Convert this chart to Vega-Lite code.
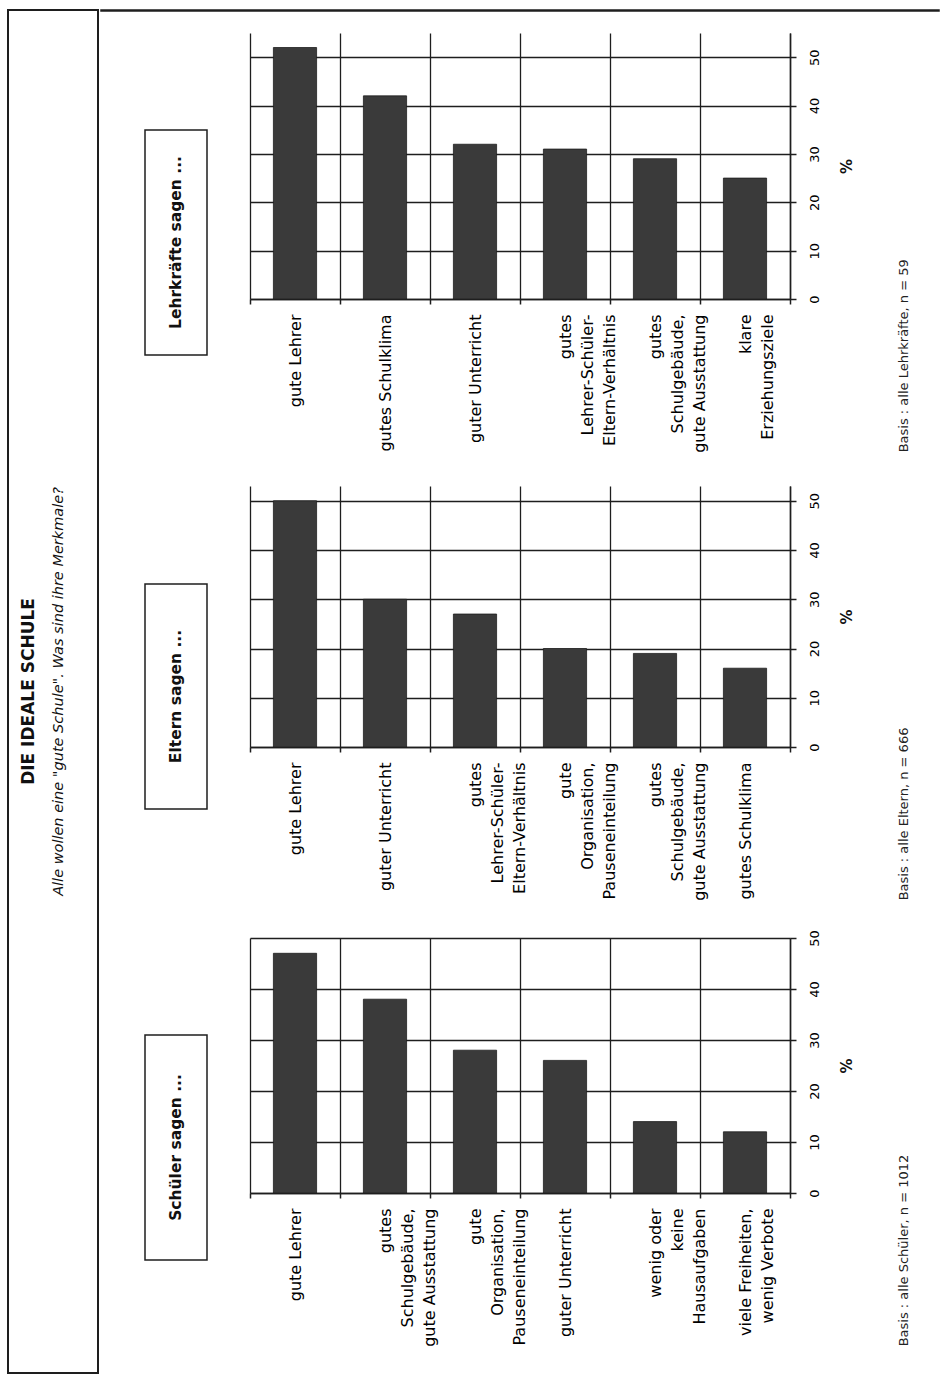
{
  "$schema": "https://vega.github.io/schema/vega-lite/v6.json",
  "background": "white",
  "padding": {"left": 7, "top": 8, "right": 0, "bottom": 0},
  "datasets": {
    "bars": [
      {"group": "L", "label": "gute Lehrer", "value": 52},
      {"group": "L", "label": "gutes Schulklima", "value": 42},
      {"group": "L", "label": "guter Unterricht", "value": 32},
      {"group": "L", "label": "gutes|Lehrer-Schüler-|Eltern-Verhältnis", "value": 31},
      {"group": "L", "label": "gutes|Schulgebäude,|gute Ausstattung", "value": 29},
      {"group": "L", "label": "klare|Erziehungsziele", "value": 25},
      {"group": "E", "label": "gute Lehrer", "value": 50},
      {"group": "E", "label": "guter Unterricht", "value": 30},
      {"group": "E", "label": "gutes|Lehrer-Schüler-|Eltern-Verhältnis", "value": 27},
      {"group": "E", "label": "gute|Organisation,|Pauseneinteilung", "value": 20},
      {"group": "E", "label": "gutes|Schulgebäude,|gute Ausstattung", "value": 19},
      {"group": "E", "label": "gutes Schulklima", "value": 16},
      {"group": "S", "label": "gute Lehrer", "value": 47},
      {"group": "S", "label": "gutes|Schulgebäude,|gute Ausstattung", "value": 38},
      {"group": "S", "label": "gute|Organisation,|Pauseneinteilung", "value": 28},
      {"group": "S", "label": "guter Unterricht", "value": 26},
      {"group": "S", "label": "wenig oder|keine|Hausaufgaben", "value": 14},
      {"group": "S", "label": "viele Freiheiten,|wenig Verbote", "value": 12}
    ],
    "heads": [
      {"group": "L", "text": "Lehrkräfte sagen ..."},
      {"group": "E", "text": "Eltern sagen ..."},
      {"group": "S", "text": "Schüler sagen ..."}
    ]
  },
  "spacing": 0,
  "hconcat": [
    {
      "width": 90,
      "height": 1363,
      "view": {"stroke": "#1e1e1e", "strokeWidth": 2},
      "data": {"values": [
        {"role": "title", "text": "DIE IDEALE SCHULE"},
        {"role": "subtitle", "text": "Alle wollen eine \"gute Schule\". Was sind ihre Merkmale?"}
      ]},
      "encoding": {
        "x": {"field": "role", "type": "nominal", "scale": {"type": "point", "domain": ["title", "subtitle"], "padding": 1, "align": 0.35}, "axis": null},
        "text": {"field": "text"}
      },
      "layer": [
        {"transform": [{"filter": "datum.role === 'title'"}], "mark": {"type": "text", "angle": 270, "font": "DejaVu Sans", "fontSize": 17, "fontWeight": "bold", "align": "center", "baseline": "middle", "color": "#111"}},
        {"transform": [{"filter": "datum.role === 'subtitle'"}], "mark": {"type": "text", "angle": 270, "font": "DejaVu Sans", "fontSize": 14.5, "fontStyle": "italic", "align": "center", "baseline": "middle", "color": "#111"}}
      ]
    },
    {
      "spacing": 20,
      "vconcat": [
        {"width": 838, "height": 1, "view": {"stroke": "#1e1e1e", "strokeWidth": 1.5}, "data": {"values": [{}]}, "mark": "rule", "encoding": {}},
        {
          "spacing": 20,
          "vconcat": [
            {
              "spacing": 34,
              "hconcat": [
                {"width": 9, "height": 100, "data": {"values": [{}]}, "mark": "rule", "encoding": {}},
                {
                  "spacing": 0,
                  "vconcat": [
                    {"width": 62, "height": 96, "data": {"values": [{}]}, "mark": "rule", "encoding": {}},
                    {"width": 62, "height": 225, "view": {"stroke": "#1e1e1e", "strokeWidth": 1.5}, "data": {"name": "heads"}, "transform": [{"filter": "datum.group === 'L'"}], "mark": {"type": "text", "angle": 270, "font": "DejaVu Sans", "fontSize": 15.5, "fontWeight": "bold", "align": "center", "baseline": "middle", "color": "#111"}, "encoding": {"text": {"field": "text"}}},
                    {"width": 62, "height": 108, "data": {"values": [{}]}, "mark": "rule", "encoding": {}}
                  ]
                },
                {
                  "width": 540,
                  "height": 266,
                  "data": {"name": "bars"},
                  "transform": [{"filter": "datum.group === 'L'"}],
                  "title": {"text": "Basis : alle Lehrkräfte, n = 59", "orient": "right", "angle": 270, "anchor": "end", "align": "left", "baseline": "top", "offset": 31, "font": "DejaVu Sans", "fontSize": 13, "fontWeight": "normal", "color": "#222"},
                  "mark": {"type": "bar", "width": {"band": 0.48}, "color": "#3a3a3a", "stroke": "#1e1e1e", "strokeWidth": 0.8},
                  "encoding": {
                    "x": {"field": "label", "type": "nominal", "sort": null, "scale": {"paddingInner": 0, "paddingOuter": 0}, "axis": {"title": null, "labelExpr": "split(datum.label, '|')"}},
                    "y": {"field": "value", "type": "quantitative", "scale": {"domain": [0, 55], "nice": false}, "axis": {"title": "%"}}
                  }
                }
              ]
            },
            {
              "spacing": 34,
              "hconcat": [
                {"width": 9, "height": 100, "data": {"values": [{}]}, "mark": "rule", "encoding": {}},
                {
                  "spacing": 0,
                  "vconcat": [
                    {"width": 62, "height": 97, "data": {"values": [{}]}, "mark": "rule", "encoding": {}},
                    {"width": 62, "height": 225, "view": {"stroke": "#1e1e1e", "strokeWidth": 1.5}, "data": {"name": "heads"}, "transform": [{"filter": "datum.group === 'E'"}], "mark": {"type": "text", "angle": 270, "font": "DejaVu Sans", "fontSize": 15.5, "fontWeight": "bold", "align": "center", "baseline": "middle", "color": "#111"}, "encoding": {"text": {"field": "text"}}},
                    {"width": 62, "height": 98, "data": {"values": [{}]}, "mark": "rule", "encoding": {}}
                  ]
                },
                {
                  "width": 540,
                  "height": 261,
                  "data": {"name": "bars"},
                  "transform": [{"filter": "datum.group === 'E'"}],
                  "title": {"text": "Basis : alle Eltern, n = 666", "orient": "right", "angle": 270, "anchor": "end", "align": "left", "baseline": "top", "offset": 31, "font": "DejaVu Sans", "fontSize": 13, "fontWeight": "normal", "color": "#222"},
                  "mark": {"type": "bar", "width": {"band": 0.48}, "color": "#3a3a3a", "stroke": "#1e1e1e", "strokeWidth": 0.8},
                  "encoding": {
                    "x": {"field": "label", "type": "nominal", "sort": null, "scale": {"paddingInner": 0, "paddingOuter": 0}, "axis": {"title": null, "labelExpr": "split(datum.label, '|')"}},
                    "y": {"field": "value", "type": "quantitative", "scale": {"domain": [0, 53], "nice": false}, "axis": {"title": "%"}}
                  }
                }
              ]
            },
            {
              "spacing": 34,
              "hconcat": [
                {"width": 9, "height": 100, "data": {"values": [{}]}, "mark": "rule", "encoding": {}},
                {
                  "spacing": 0,
                  "vconcat": [
                    {"width": 62, "height": 96, "data": {"values": [{}]}, "mark": "rule", "encoding": {}},
                    {"width": 62, "height": 225, "view": {"stroke": "#1e1e1e", "strokeWidth": 1.5}, "data": {"name": "heads"}, "transform": [{"filter": "datum.group === 'S'"}], "mark": {"type": "text", "angle": 270, "font": "DejaVu Sans", "fontSize": 15.5, "fontWeight": "bold", "align": "center", "baseline": "middle", "color": "#111"}, "encoding": {"text": {"field": "text"}}},
                    {"width": 62, "height": 98, "data": {"values": [{}]}, "mark": "rule", "encoding": {}}
                  ]
                },
                {
                  "width": 540,
                  "height": 255,
                  "data": {"name": "bars"},
                  "transform": [{"filter": "datum.group === 'S'"}],
                  "title": {"text": "Basis : alle Schüler, n = 1012", "orient": "right", "angle": 270, "anchor": "end", "align": "left", "baseline": "top", "offset": 31, "font": "DejaVu Sans", "fontSize": 13, "fontWeight": "normal", "color": "#222"},
                  "mark": {"type": "bar", "width": {"band": 0.48}, "color": "#3a3a3a", "stroke": "#1e1e1e", "strokeWidth": 0.8},
                  "encoding": {
                    "x": {"field": "label", "type": "nominal", "sort": null, "scale": {"paddingInner": 0, "paddingOuter": 0}, "axis": {"title": null, "labelExpr": "split(datum.label, '|')"}},
                    "y": {"field": "value", "type": "quantitative", "scale": {"domain": [0, 50], "nice": false}, "axis": {"title": "%"}}
                  }
                }
              ]
            }
          ]
        },
        {"width": 838, "height": 1, "view": {"stroke": "#1e1e1e", "strokeWidth": 1.5}, "data": {"values": [{}]}, "mark": "rule", "encoding": {}}
      ]
    }
  ],
  "config": {
    "font": "DejaVu Sans",
    "view": {"stroke": null},
    "title": {"font": "DejaVu Sans"},
    "axis": {
      "domainColor": "#1e1e1e", "domainWidth": 1.5,
      "tickColor": "#1e1e1e", "tickWidth": 1.5,
      "gridColor": "#1e1e1e", "gridOpacity": 1, "gridWidth": 1.3,
      "labelColor": "#000", "titleColor": "#111",
      "labelFont": "DejaVu Sans", "titleFont": "DejaVu Sans",
      "labelOverlap": false
    },
    "axisX": {
      "grid": true, "tickBand": "extent", "tickSize": 5,
      "labelAngle": 270, "labelAlign": "right", "labelBaseline": "middle",
      "labelFontSize": 16, "labelFontWeight": "normal", "labelLineHeight": 22,
      "labelPadding": 10, "labelLimit": 400
    },
    "axisY": {
      "orient": "right", "grid": true, "values": [0, 10, 20, 30, 40, 50],
      "tickSize": 6, "labelAngle": 270, "labelAlign": "center", "labelBaseline": "top",
      "labelFontSize": 13, "labelFontWeight": "normal", "labelPadding": 12, "labelFlush": false,
      "titleAngle": 270, "titleBaseline": "top", "titleFontSize": 15, "titleFontWeight": "bold", "titlePadding": 18
    }
  }
}
